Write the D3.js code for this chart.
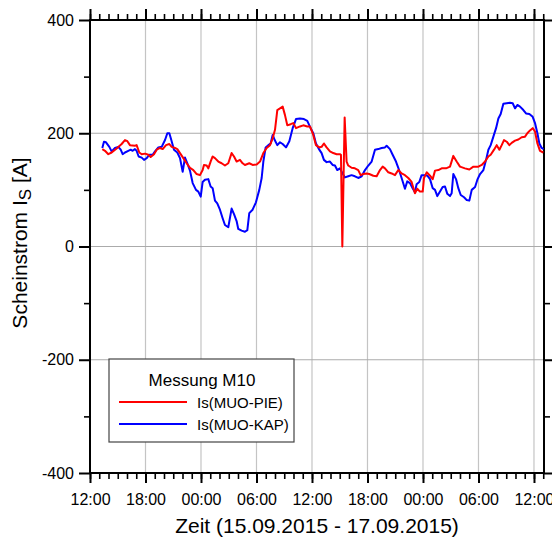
<!DOCTYPE html>
<html>
<head>
<meta charset="utf-8">
<script src="https://cdn.jsdelivr.net/npm/d3@7"></script>
<style>
  body { margin: 0; background: #fff; }
  text { font-family: "Liberation Sans", Arial, sans-serif; fill: #000; }
</style>
</head>
<body>
<svg id="chart" width="552" height="543"></svg>
<script>
// hours after 15.09.2015 12:00
var pieHours = [1.33,1.62,1.98,2.34,2.88,3.42,3.78,4.04,4.32,4.86,
  5.04,5.33,5.59,5.95,6.31,6.56,6.92,7.21,7.57,7.86,
  8.22,8.58,8.83,9.19,9.44,9.73,10.09,10.45,10.81,11.17,
  11.53,11.89,12.18,12.32,12.61,12.79,13.04,13.26,13.51,13.87,
  14.23,14.59,14.95,15.31,15.57,15.85,16.21,16.5,16.75,17.22,
  17.58,18.02,18.38,18.74,19.1,19.46,19.75,20.0,20.25,20.54,
  20.83,21.08,21.33,21.69,21.98,22.27,22.7,23.06,23.49,23.78,
  24.14,24.43,24.79,25.04,25.29,25.58,25.94,26.3,26.66,27.02,
  27.13,27.28,27.53,27.74,27.92,28.28,28.64,29.0,29.26,29.55,
  29.91,30.19,30.63,30.99,31.35,31.64,31.89,32.25,32.61,32.97,
  33.33,33.69,34.05,34.41,34.77,35.13,35.38,35.67,35.97,36.11,
  36.4,36.76,37.05,37.3,37.66,38.02,38.49,38.92,39.28,39.64,
  40.0,40.54,41.01,41.45,41.99,42.35,42.71,43.07,43.32,43.68,
  43.97,44.26,44.51,44.76,45.05,45.34,45.59,45.95,46.31,46.67,
  47.03,47.28,47.57,47.86,48.11,48.37,48.65,49.01];
var pieValues = [172,169,163,166,173,181,188,186,179,178,
  179,166,163,164,162,158,163,171,174,172,
  179,181,176,174,172,165,156,147,139,135,
  128,126,135,144,143,138,150,159,156,150,
  147,143,147,165,159,150,153,147,144,147,
  144,145,150,165,174,179,191,206,241,244,
  247,232,214,216,218,209,212,214,212,212,
  197,179,175,176,182,175,168,165,163,163,
  162,0,228,150,143,139,138,135,126,128,
  129,128,125,124,135,141,138,131,129,126,
  135,129,126,121,114,94,102,97,97,121,
  131,125,119,134,135,138,138,141,160,150,
  141,138,136,141,141,144,150,159,162,171,
  179,171,179,188,185,179,183,187,189,193,
  194,200,205,209,203,182,169,166];

var kapHours = [1.33,1.51,1.73,2.09,2.34,2.7,3.06,3.32,3.53,3.78,
  4.14,4.4,4.61,4.86,5.04,5.26,5.59,5.84,6.13,6.41,
  6.77,7.03,7.39,7.75,8.11,8.36,8.58,8.79,9.08,9.44,
  9.73,10.02,10.27,10.52,10.81,11.1,11.46,11.71,11.97,12.18,
  12.43,12.79,13.04,13.26,13.51,13.76,14.05,14.34,14.59,14.95,
  15.31,15.57,15.85,16.03,16.39,16.75,17.01,17.22,17.58,17.94,
  18.3,18.56,18.74,18.99,19.28,19.53,19.75,19.97,20.25,20.54,
  20.83,21.19,21.55,21.91,22.27,22.7,23.13,23.49,23.85,24.14,
  24.43,24.79,25.04,25.29,25.58,25.94,26.23,26.48,26.73,27.02,
  27.31,27.56,27.92,28.28,28.64,29.0,29.37,29.73,30.09,30.45,
  30.81,31.17,31.53,31.89,32.07,32.43,32.72,33.08,33.33,33.69,
  34.05,34.3,34.59,34.88,35.13,35.31,35.6,35.85,36.22,36.47,
  36.76,37.05,37.3,37.55,37.84,38.13,38.38,38.63,38.92,39.1,
  39.28,39.57,39.82,40.08,40.44,40.73,41.01,41.27,41.63,41.88,
  42.17,42.53,42.82,43.07,43.32,43.61,43.9,44.15,44.4,44.69,
  45.05,45.41,45.7,45.95,46.2,46.49,46.85,47.14,47.5,47.86,
  48.11,48.37,48.58,48.83,49.05];
var kapValues = [174,185,184,176,168,174,176,171,163,166,
  169,171,169,172,169,159,157,153,156,162,
  162,168,175,176,188,200,200,188,171,166,
  156,132,157,147,134,112,100,97,88,114,
  118,119,106,103,81,76,65,50,38,34,
  67,57,45,31,28,26,29,59,65,78,
  100,121,150,175,179,182,197,188,179,184,
  181,175,186,209,225,226,225,222,209,200,
  182,171,165,153,149,150,144,143,135,138,
  129,122,124,126,124,121,124,135,143,150,
  171,172,174,175,178,172,162,150,139,121,
  102,115,112,103,96,110,114,126,126,125,
  119,103,100,89,97,105,106,93,89,94,
  128,119,103,91,87,82,81,100,105,118,
  128,135,153,171,179,194,209,226,234,252,
  253,254,253,244,250,247,241,235,234,229,
  218,200,182,174,172];

var yTicks = [-400, -200, 0, 200, 400];
var yMinorTicks = [-300, -100, 100, 300];
var seriesNames = ["Is(MUO-PIE)", "Is(MUO-KAP)"];
var legendTitle = "Messung M10";

var svg = d3.select("#chart"),
    margin = {top: 20, right: 8, bottom: 70, left: 90},
    width = +svg.attr("width") - margin.left - margin.right,
    height = +svg.attr("height") - margin.top - margin.bottom;

var t0 = new Date(2015, 8, 15, 12, 0);
function toDate(h) { return new Date(t0.getTime() + h * 3600e3); }

var x = d3.scaleTime().domain([t0, toDate(49.083)]).range([0, width]);
var y = d3.scaleLinear().domain([-400, 400]).range([height, 0]);

var g = svg.append("g")
    .attr("transform", "translate(" + margin.left + "," + margin.top + ")");

// grid
var majorTimes = x.ticks(d3.timeHour.every(6));
g.selectAll(".vgrid")
    .data(majorTimes)
    .enter().append("line")
    .attr("x1", function(d) { return x(d); })
    .attr("x2", function(d) { return x(d); })
    .attr("y1", 0).attr("y2", height)
    .attr("stroke", "#c4c4c4").attr("stroke-width", 1.2);
g.selectAll(".hgrid")
    .data(yTicks)
    .enter().append("line")
    .attr("x1", 0).attr("x2", width)
    .attr("y1", function(d) { return y(d); })
    .attr("y2", function(d) { return y(d); })
    .attr("stroke", "#ababab").attr("stroke-width", 1.2);

function styleAxis(sel, w) {
    sel.select(".domain").remove();
    sel.selectAll(".tick line").attr("stroke", "#000").attr("stroke-width", w);
}

// minor ticks
g.append("g").attr("transform", "translate(0," + height + ")")
    .call(d3.axisBottom(x).ticks(d3.timeHour.every(1)).tickSize(6).tickFormat(""))
    .call(styleAxis, 1.6);
g.append("g")
    .call(d3.axisTop(x).ticks(d3.timeHour.every(1)).tickSize(6).tickFormat(""))
    .call(styleAxis, 1.6);
g.append("g")
    .call(d3.axisLeft(y).tickValues(yMinorTicks).tickSize(6).tickFormat(""))
    .call(styleAxis, 1.6);
g.append("g").attr("transform", "translate(" + width + ",0)")
    .call(d3.axisRight(y).tickValues(yMinorTicks).tickSize(6).tickFormat(""))
    .call(styleAxis, 1.6);

// major ticks
var xb = g.append("g").attr("transform", "translate(0," + height + ")")
    .call(d3.axisBottom(x).ticks(d3.timeHour.every(6)).tickSize(10).tickPadding(11)
        .tickFormat(d3.timeFormat("%H:%M")))
    .call(styleAxis, 2);
xb.selectAll("text").attr("font-size", 16).attr("fill", "#000")
    .style("font-family", "'Liberation Sans', Arial, sans-serif");
g.append("g")
    .call(d3.axisTop(x).ticks(d3.timeHour.every(6)).tickSize(11).tickFormat(""))
    .call(styleAxis, 2);
var yl = g.append("g")
    .call(d3.axisLeft(y).tickValues(yTicks).tickSize(11).tickPadding(5)
        .tickFormat(function(d) { return String(d); }))
    .call(styleAxis, 2);
yl.selectAll("text").attr("font-size", 16).attr("fill", "#000")
    .style("font-family", "'Liberation Sans', Arial, sans-serif");
g.append("g").attr("transform", "translate(" + width + ",0)")
    .call(d3.axisRight(y).tickValues(yTicks).tickSize(11).tickFormat(""))
    .call(styleAxis, 2);

// frame
g.append("rect")
    .attr("width", width).attr("height", height)
    .attr("fill", "none").attr("stroke", "#000").attr("stroke-width", 2);

// lines
svg.append("clipPath").attr("id", "clip")
    .append("rect").attr("width", width).attr("height", height);

var line = d3.line()
    .x(function(d) { return x(toDate(d[0])); })
    .y(function(d) { return y(d[1]); });

var kapData = kapHours.map(function(h, i) { return [h, kapValues[i]]; });
var pieData = pieHours.map(function(h, i) { return [h, pieValues[i]]; });

var gLines = g.append("g").attr("clip-path", "url(#clip)");
gLines.append("path").datum(kapData)
    .attr("d", line).attr("fill", "none")
    .attr("stroke", "#0000ff").attr("stroke-width", 2).attr("stroke-linejoin", "round");
gLines.append("path").datum(pieData)
    .attr("d", line).attr("fill", "none")
    .attr("stroke", "#ff0000").attr("stroke-width", 2).attr("stroke-linejoin", "round");

// axis titles
svg.append("text")
    .attr("x", margin.left + width / 2).attr("y", 533)
    .attr("text-anchor", "middle").attr("font-size", 21)
    .text("Zeit (15.09.2015 - 17.09.2015)");

var ylab = svg.append("text")
    .attr("transform", "translate(27," + 243 + ") rotate(-90)")
    .attr("text-anchor", "middle").attr("font-size", 21);
ylab.append("tspan").text("Scheinstrom I");
ylab.append("tspan").attr("font-size", 17).attr("dy", 4).text("S");
ylab.append("tspan").attr("dy", -4).text(" [A]");

// legend
var legend = svg.append("g");
legend.append("rect")
    .attr("x", 109).attr("y", 359).attr("width", 185).attr("height", 83)
    .attr("fill", "#fff").attr("stroke", "#444").attr("stroke-width", 1.2);
legend.append("text")
    .attr("x", 202).attr("y", 386).attr("text-anchor", "middle")
    .attr("font-size", 17).text(legendTitle);
var legendColors = ["#ff0000", "#0000ff"];
seriesNames.forEach(function(name, i) {
    var ly = 402 + i * 22;
    legend.append("line")
        .attr("x1", 119).attr("x2", 187).attr("y1", ly).attr("y2", ly)
        .attr("stroke", legendColors[i]).attr("stroke-width", 2);
    legend.append("text")
        .attr("x", 197).attr("y", ly + 5.5)
        .attr("font-size", 15).text(name);
});
</script>
</body>
</html>
